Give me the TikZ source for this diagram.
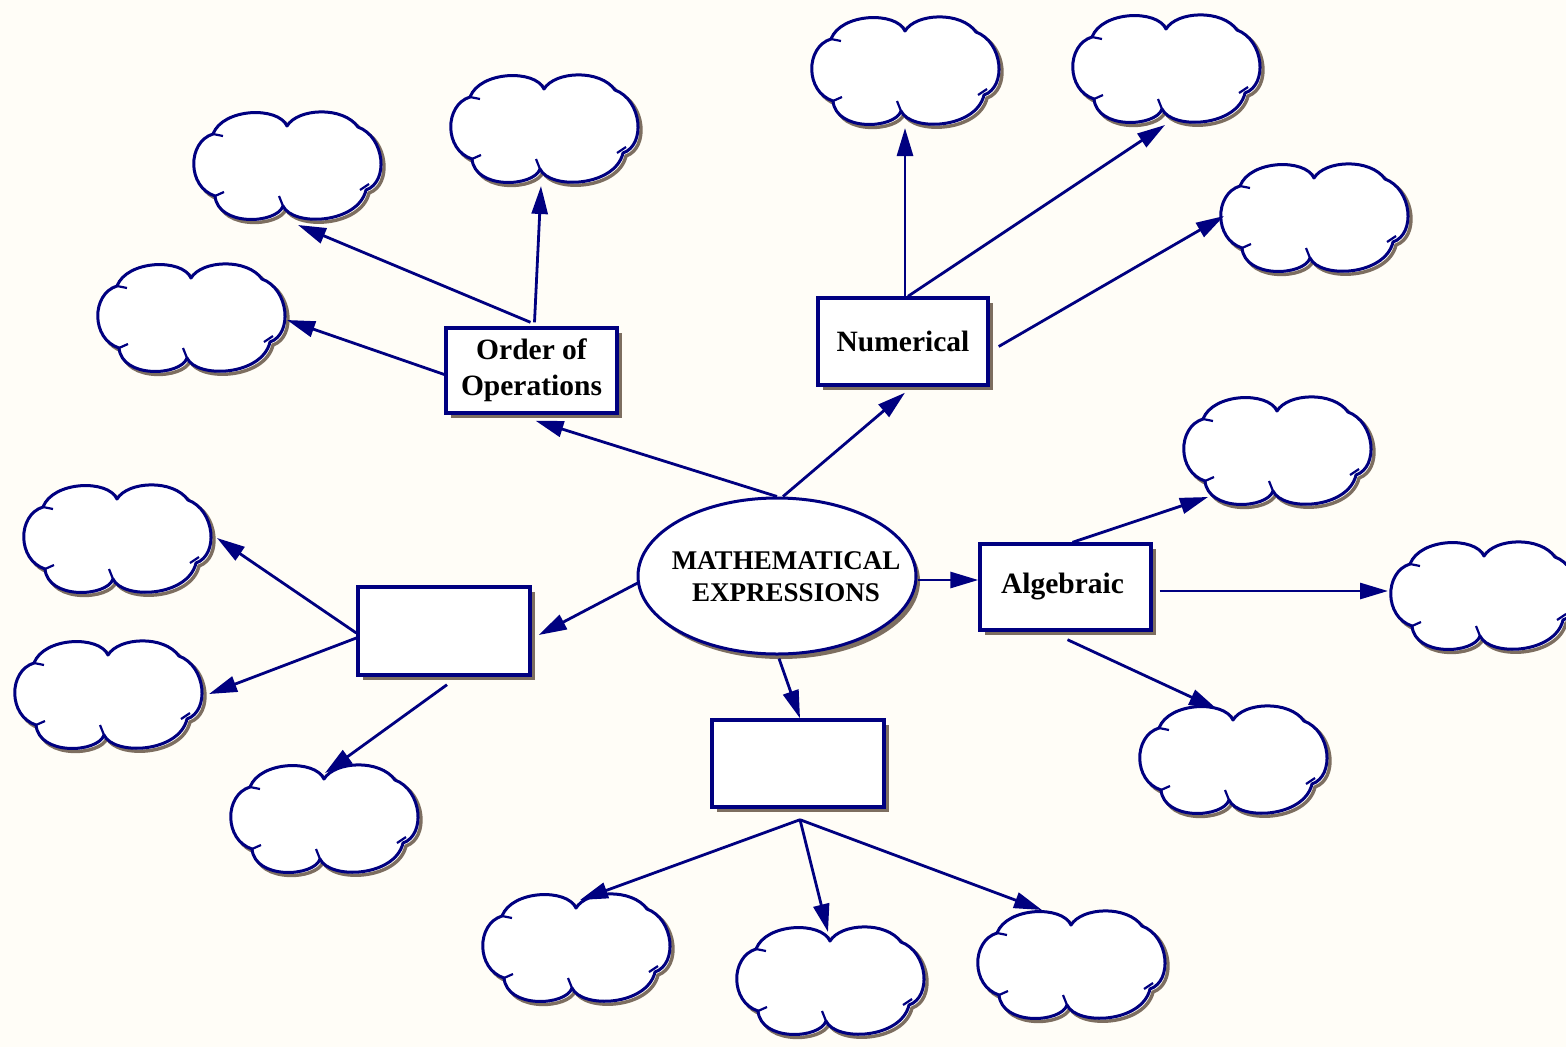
\documentclass[tikz,border=0pt]{standalone}
\usepackage{fontspec}
\setmainfont{Liberation Serif}
\usetikzlibrary{shapes.geometric,arrows.meta,calc,shadows}
\definecolor{navy}{RGB}{0,0,128}
\definecolor{shadowc}{RGB}{125,110,96}
\definecolor{bgc}{RGB}{255,253,247}
\newcommand\cloudshape{(94,14) .. controls (105,-4) and (150,-6) .. (165,15) .. controls (192,25) and (196,70) .. (173,78) .. controls (165,112) and (100,115) .. (90,94) .. controls (84,112) and (25,115) .. (22,84) .. controls (-6,75) and (-6,30) .. (20,22) .. controls (30,-4) and (85,-6) .. (94,14) -- cycle}
\newcommand\mkcloud[3]{%
  \coordinate (#1) at (#2,#3);
  \begin{scope}[shift={(#2-94,#3-55)}]
    \draw[shadowc, line width=3.4pt, line join=round, shift={(3,3)}] \cloudshape;
    \draw[navy, fill=white, line width=3pt, line join=round] \cloudshape;
    \draw[navy, line width=2.2pt] (90,94) -- (86,84);
    \draw[navy, line width=2.2pt] (176,72) -- (167,78);
    \draw[navy, line width=2.2pt] (20,22) -- (30,24);
    \draw[navy, line width=2.2pt] (22,84) -- (31,80);
  \end{scope}
}
\tikzset{
  box/.style={draw=navy, line width=3.4pt, fill=white, rectangle, inner sep=0pt, align=center,
    font=\fontsize{29.5}{36}\selectfont\bfseries,
    general shadow={fill=shadowc, shadow xshift=5pt, shadow yshift=-5pt}},
  arr/.style={navy, line width=2.8pt, -{Triangle[length=28pt,width=16pt]}},
}
\begin{document}
\begin{tikzpicture}[x=1pt,y=-1pt]
\useasboundingbox (0,0) rectangle (1566,1047);
\fill[bgc] (0,0) rectangle (1566,1047);

% clouds
\mkcloud{cA}{287}{167}
\mkcloud{cB}{544}{130}
\mkcloud{cC}{191}{319}
\mkcloud{cD}{905}{72}
\mkcloud{cE}{1166}{70}
\mkcloud{cF}{1314}{219}
\mkcloud{cG}{1277}{452}
\mkcloud{cH}{1484}{597}
\mkcloud{cI}{1233}{761}
\mkcloud{cJ}{117}{540}
\mkcloud{cK}{108}{696}
\mkcloud{cL}{324}{820}
\mkcloud{cM}{576}{949}
\mkcloud{cN}{830}{982}
\mkcloud{cO}{1071}{966}

% central ellipse
\node[draw=navy, line width=3pt, fill=white, ellipse, minimum width=278pt, minimum height=156pt,
  inner sep=0pt, general shadow={fill=shadowc, shadow xshift=4pt, shadow yshift=-5pt}] (me) at (777,576) {};
\node[font=\fontsize{27}{32}\selectfont\bfseries, align=center] (metext) at (786,577) {MATHEMATICAL\\EXPRESSIONS};

% boxes
\node[box, minimum width=171pt, minimum height=85pt] (ob) at (531.5,370.5) {Order of\\Operations};
\node[box, minimum width=170pt, minimum height=87pt] (nb) at (903,341.5) {\raisebox{-3pt}{Numerical}};
\node[box, minimum width=171pt, minimum height=86pt] (ab) at (1065.5,587) {\hspace*{-6pt}Algebraic};
\node[box, minimum width=172pt, minimum height=88pt] (lb) at (444,631) {};
\node[box, minimum width=172pt, minimum height=87pt] (bb) at (798,763.5) {};

% connectors from the centre
\draw[arr] (me.north) -- ($(ob.south)+(4,6)$);
\draw[arr] ($(me.north)+(6,0)$) -- ($(nb.south)+(2,6)$);
\draw[arr] ($(me.east)+(0,4)$) -- ($(ab.west)+(0,-7)$);
\draw[arr] ($(me.west)+(3,6)$) -- ($(lb.east)+(7,4)$);
\draw[arr] ($(me.south)+(2,3)$) -- ($(bb.north)+(2,0)$);

% Order of Operations
\draw[arr] ($(ob.west)+(0,4)$) -- ($(cC)+(96,1)$);
\draw[arr] ($(ob.north)+(-1,-4)$) -- ($(cA)+(11,58)$);
\draw[arr] ($(ob.north)+(3,-4)$) -- ($(cB)+(-3,56)$);

% Numerical
\draw[arr] ($(nb.north)+(2,0)$) -- ($(cD)+(0,56)$);
\draw[arr] ($(nb.north)+(5,0)$) -- ($(cE)+(-1,55)$);
\draw[arr] ($(nb.east)+(9,5)$) -- ($(cF)+(-90,-3)$);

% Algebraic
\draw[arr] ($(ab.north)+(7,0)$) -- ($(cG)+(-69,45)$);
\draw[arr] ($(ab.east)+(7,4)$) -- ($(cH)+(-96,-6)$);
\draw[arr] ($(ab.south)+(2,8)$) -- ($(cI)+(-16,-52)$);

% left box
\draw[arr] ($(lb.west)+(0,2)$) -- ($(cJ)+(100,-2)$);
\draw[arr] ($(lb.west)+(0,7)$) -- ($(cK)+(101,-2)$);
\draw[arr] ($(lb.south)+(3,8)$) -- ($(cL)+(1,-47)$);

% bottom box
\draw[arr] ($(bb.south)+(2,11)$) -- ($(cM)+(4,-49)$);
\draw[arr] ($(bb.south)+(2,11)$) -- ($(cN)+(-2,-50)$);
\draw[arr] ($(bb.south)+(2,11)$) -- ($(cO)+(-29,-56)$);
\end{tikzpicture}
\end{document}
